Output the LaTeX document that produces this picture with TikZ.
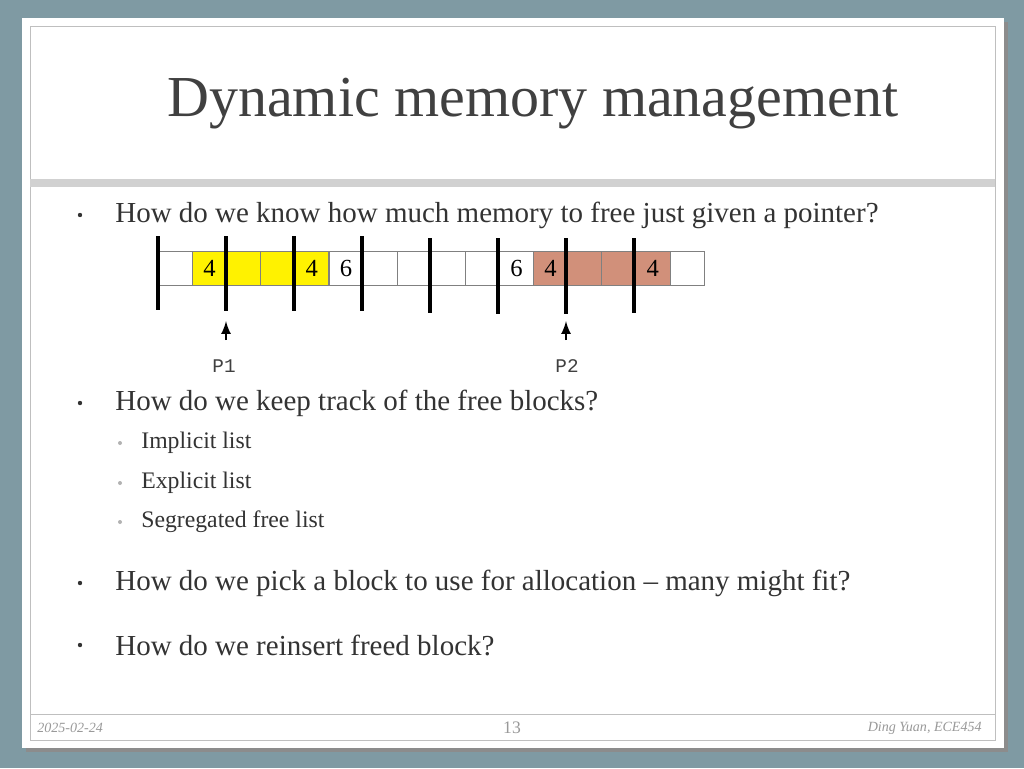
\documentclass[tikz,border=0pt]{standalone}
\usepackage{fontspec}
\setmainfont{Liberation Serif}
\setmonofont{Liberation Mono}
\definecolor{brownc}{RGB}{209,144,122}
\definecolor{bgc}{RGB}{127,154,163}
\begin{document}
\begin{tikzpicture}[x=0.02cm,y=-0.02cm,
  cell/.style={draw=black!50,line width=0.5pt,minimum width=0.682cm,minimum height=0.68cm,anchor=north west,inner sep=0},
  sep/.style={line width=2pt},
  body/.style={anchor=west,font=\fontsize{16.5}{18}\selectfont,text=black!80,inner sep=0},
  sub/.style={anchor=west,font=\fontsize{13.5}{15}\selectfont,text=black!80,inner sep=0},
  num/.style={font=\fontsize{14}{16}\selectfont,inner sep=0},
  foot/.style={font=\fontsize{8}{9}\itshape\selectfont,text=black!40,inner sep=0}]
\useasboundingbox (0,0) rectangle (1024,768);
\fill[bgc] (0,0) rectangle (1024,768);
\fill[black!45] (26,22) rectangle (1008,752);
\fill[white] (22,18) rectangle (1004,748);
\draw[black!25] (30,26) rectangle (995,740);
\fill[black!18] (30,179) rectangle (995,187);
\draw[black!25] (30,714) -- (995,714);
\node[anchor=west,inner sep=0,font=\fontsize{33}{36}\selectfont,text=black!75] (title) at (167,104) {Dynamic memory management};
% bullets
\node[body] (b1) at (115,215) {How do we know how much memory to free just given a pointer?};
\node[body] (b2) at (115,403) {How do we keep track of the free blocks?};
\node[sub] (s1) at (141,443) {Implicit list};
\node[sub] (s2) at (141,483) {Explicit list};
\node[sub] (s3) at (141,522) {Segregated free list};
\node[body] (b3) at (115,583) {How do we pick a block to use for allocation -- many might fit?};
\node[body] (b4) at (115,645) {How do we reinsert freed block?};
\foreach \y in {215,403,583,645} \fill[black!80] (80,\y) circle (2.2);
\foreach \y in {443,483,522} \fill[black!30] (120,\y) circle (2);
% cells
\foreach \i/\col in {0/white,1/yellow,2/yellow,3/yellow,4/yellow,5/white,6/white,7/white,8/white,9/white,10/white,11/brownc,12/brownc,13/brownc,14/brownc,15/white}
  \node[cell,fill=\col] (c\i) at (158+34.1*\i,251) {};
\node[num] at (c1) {4};
\node[num] at (c4) {4};
\node[num] at (c5) {6};
\node[num] at (c10) {6};
\node[num] at (c11) {4};
\node[num] at (c14) {4};
\foreach \x/\t/\b in {158/236/310,226/236/311,294/236/311,362/236/311,430/238/313,498/238/314,566/238/314,634/238/313}
  \draw[sep] (\x,\t) -- (\x,\b);
\coordinate (p1t) at (226,321); \coordinate (p1b) at (226,340);
\coordinate (p2t) at (566,321); \coordinate (p2b) at (566,340);
\draw[line width=1.5pt,-latex] (p1b) -- (p1t);
\draw[line width=1.5pt,-latex] (p2b) -- (p2t);
\node[font=\ttfamily\fontsize{11}{12}\selectfont,text=black!75] (P1) at (224,366) {P1};
\node[font=\ttfamily\fontsize{11}{12}\selectfont,text=black!75] (P2) at (567,366) {P2};
% footer
\node[foot,anchor=west] (date) at (37,728) {2025-02-24};
\node[font=\fontsize{10}{11}\selectfont,text=black!40] (pg) at (512,728) {13};
\node[foot,anchor=east] (auth) at (982,728) {Ding Yuan, ECE454};
\end{tikzpicture}
\end{document}
